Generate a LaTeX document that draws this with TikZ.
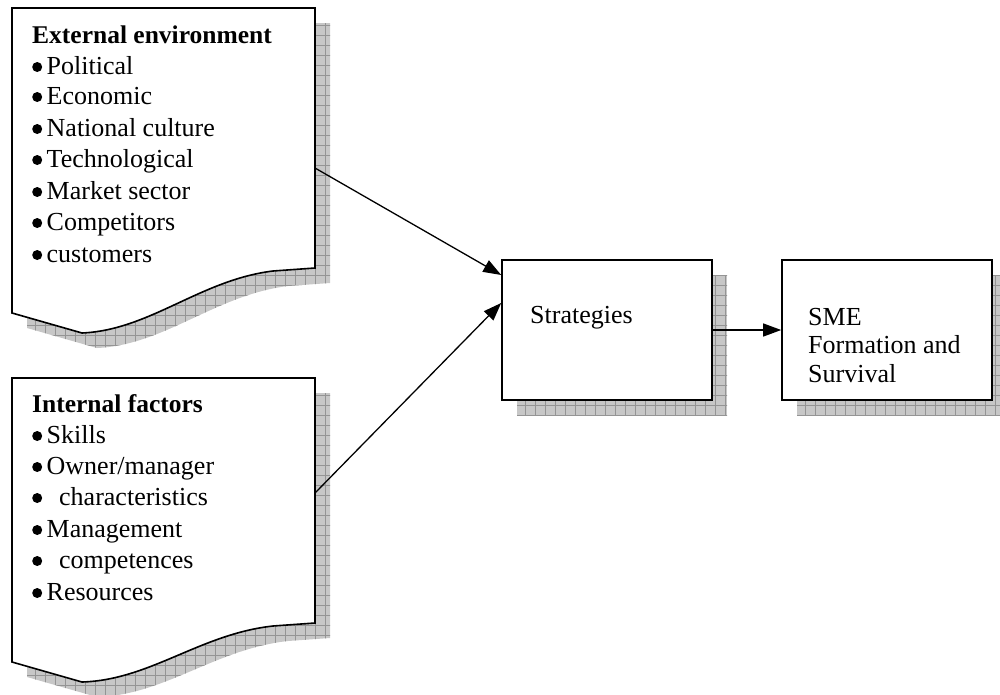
\documentclass[tikz,border=0pt]{standalone}
\usepackage{fontspec}
\setmainfont{Liberation Serif}
\usetikzlibrary{arrows.meta}
\tikzset{
  shadowfill/.style={fill=black!22},
  gridline/.style={draw=black!42, line width=0.6pt},
  docshape/.style={draw=black, line width=1.6pt, fill=white, line join=miter},
  boxshape/.style={draw=black, line width=1.6pt, fill=white, rectangle, inner sep=0pt},
  txt/.style={anchor=base west, inner sep=0pt, font=\fontsize{26}{30}\selectfont},
  hdr/.style={txt, font=\fontsize{25.5}{30}\selectfont\bfseries},
  conn/.style={draw=black, line width=1.3pt, -{Triangle[length=18pt,width=13pt]}}
}
\newcommand\bdot{\raisebox{2pt}{\tikz\fill[black] (0pt,0pt) circle (5pt);}}
\newcommand\bul[1]{\makebox[14.5pt][l]{\bdot}#1}
\newcommand\bulx[1]{\makebox[27pt][l]{\bdot}#1}
\newcommand\myshadow[1]{%
  \begin{scope}[shift={(15,15)}]
    \fill[shadowfill] #1;
    \begin{scope}
      \clip #1;
      \draw[gridline, step=10pt] (-20,-20) grid (1020,720);
    \end{scope}
  \end{scope}}
\begin{document}
\begin{tikzpicture}[x=1pt,y=-1pt]
\useasboundingbox (0,0) rectangle (1000,694);
\clip (0,0) rectangle (1000,694);
% shadows
\myshadow{(12,8) -- (315,8) -- (315,268) -- (273,271) .. controls (200,280) and (150,330) .. (82,333) -- (12,313) -- cycle}
\myshadow{(12,378) -- (315,378) -- (315,623) -- (273,626) .. controls (200,634) and (150,680) .. (82,682) -- (12,662) -- cycle}
\myshadow{(502,260) rectangle (712,400)}
\myshadow{(782,260) rectangle (992,400)}
% documents
\draw[docshape] (12,8) -- (315,8) -- (315,268) -- (273,271) .. controls (200,280) and (150,330) .. (82,333) -- (12,313) -- cycle;
\draw[docshape] (12,378) -- (315,378) -- (315,623) -- (273,626) .. controls (200,634) and (150,680) .. (82,682) -- (12,662) -- cycle;
% boxes
\node[boxshape, minimum width=210pt, minimum height=140pt] (strat) at (607,330) {};
\node[boxshape, minimum width=210pt, minimum height=140pt] (sme) at (887,330) {};
% external text
\node[hdr] (e0) at (32,43) {External environment};
\node[txt] (e1) at (32,74) {\bul{Political}};
\node[txt] (e2) at (32,104) {\bul{Economic}};
\node[txt] (e3) at (32,136) {\bul{National culture}};
\node[txt] (e4) at (32,167) {\bul{Technological}};
\node[txt] (e5) at (32,199) {\bul{Market sector}};
\node[txt] (e6) at (32,230) {\bul{Competitors}};
\node[txt] (e7) at (32,262) {\bul{customers}};
% internal text
\node[hdr] (i0) at (32,412) {Internal factors};
\node[txt] (i1) at (32,443) {\bul{Skills}};
\node[txt] (i2) at (32,474) {\bul{Owner/manager}};
\node[txt] (i3) at (32,505) {\bulx{characteristics}};
\node[txt] (i4) at (32,537) {\bul{Management}};
\node[txt] (i5) at (32,568) {\bulx{competences}};
\node[txt] (i6) at (32,600) {\bul{Resources}};
% box text
\node[txt] (st) at (530,323) {Strategies};
\node[txt] (s1) at (808,325) {SME};
\node[txt] (s2) at (808,353) {Formation and};
\node[txt] (s3) at (808,382) {Survival};
% connectors
\coordinate (extout) at (315,168);
\coordinate (intout) at (315,493);
\coordinate (sin1) at ([yshift=55pt]strat.west);
\coordinate (sin2) at ([yshift=27pt]strat.west);
\draw[conn] (extout) -- (sin1);
\draw[conn] (intout) -- (sin2);
\draw[conn] (strat.east) -- (sme.west);
\end{tikzpicture}
\end{document}
